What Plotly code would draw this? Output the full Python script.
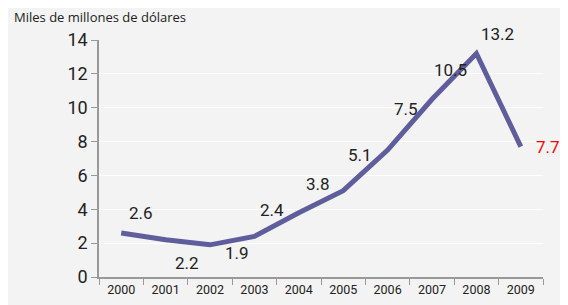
import plotly.graph_objects as go

years = ["2000", "2001", "2002", "2003", "2004", "2005", "2006", "2007", "2008", "2009"]
values = [2.6, 2.2, 1.9, 2.4, 3.8, 5.1, 7.5, 10.5, 13.2, 7.7]
labels = ["2.6", "2.2", "1.9", "2.4", "3.8", "5.1", "7.5", "10.5", "13.2", "7.7"]
y_ticks = [0, 2, 4, 6, 8, 10, 12, 14]

# label offsets (pixels) for the data labels
label_dx = [20, 21, 27, 18, 19, 17, 18, 18, 21, 27]
label_dy = [20, -23, -8, 26, 29, 36, 41, 29, 20, 0]
label_colors = ["#222222"] * 9 + ["#ff0000"]

FONT = "Roboto"

fig = go.Figure()
fig.add_trace(go.Scatter(
    x=years, y=values, mode="lines",
    line=dict(color="#5f5d9b", width=5),
    hoverinfo="skip",
))

for i, (v, t, dx, dy, c) in enumerate(zip(values, labels, label_dx, label_dy, label_colors)):
    fig.add_annotation(x=i, y=v, text=t, showarrow=False,
                       xshift=dx, yshift=dy,
                       font=dict(family=FONT, size=17, color=c))

fig.add_annotation(xref="paper", yref="paper", x=0, y=1.0, xshift=-87, yshift=23,
                   xanchor="left", yanchor="middle", showarrow=False,
                   text="Miles de millones de dólares",
                   font=dict(family="Open Sans, sans-serif", size=13, color="#222222"))

fig.update_layout(
    width=568, height=305,
    margin=dict(l=91, r=33, t=32, b=36),
    paper_bgcolor="#f3f3f3", plot_bgcolor="#f3f3f3",
    showlegend=False,
    xaxis=dict(type="category", tickson="boundaries", ticks="outside", ticklen=6,
               tickcolor="#999999", showline=True, linecolor="#999999", linewidth=1.5,
               showgrid=False, tickfont=dict(family=FONT, size=12.5, color="#222222"),
               range=[-0.5, 9.5], automargin=False),
    yaxis=dict(range=[0, 14], tickvals=y_ticks, ticks="outside", ticklen=6,
               tickcolor="#999999", showline=True, linecolor="#999999", linewidth=1.5,
               showgrid=True, gridcolor="#ffffff", gridwidth=1, zeroline=False,
               tickfont=dict(family=FONT, size=18, color="#222222"), automargin=False),
)

fig.write_html("out.html")
